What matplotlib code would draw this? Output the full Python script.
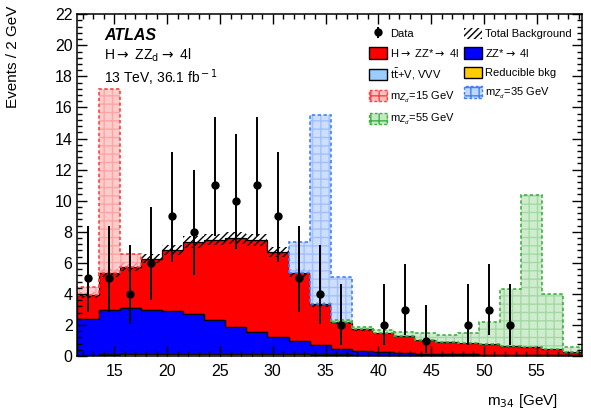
import math
import numpy as np
import matplotlib.pyplot as plt
from matplotlib.patches import Patch
from matplotlib.ticker import MultipleLocator

plt.rcParams['font.family'] = ['Liberation Sans', 'DejaVu Sans']

# binning: 2 GeV bins in m34
bin_lo, bin_hi, bin_w = 11.5, 59.5, 2.0
edges = np.arange(bin_lo, bin_hi + 0.1, bin_w)

data = [5, 5, 4, 6, 9, 8, 11, 10, 11, 9, 5, 4, 2, 0, 2, 3, 1, 0, 2, 3, 2, 0, 0, 0]

reducible = [0.06, 0.09, 0.11, 0.12, 0.13, 0.13, 0.13, 0.13, 0.12, 0.12, 0.11, 0.10,
             0.09, 0.08, 0.08, 0.07, 0.06, 0.06, 0.05, 0.05, 0.04, 0.04, 0.03, 0.03]
ttv = [0.02, 0.02, 0.02, 0.02, 0.02, 0.02, 0.02, 0.02, 0.02, 0.02, 0.02, 0.02,
       0.02, 0.02, 0.02, 0.02, 0.02, 0.02, 0.02, 0.02, 0.02, 0.02, 0.02, 0.02]
zz = [2.34, 2.85, 2.94, 2.82, 2.75, 2.53, 2.17, 1.74, 1.43, 1.10, 0.85, 0.59,
      0.38, 0.24, 0.14, 0.08, 0.06, 0.05, 0.04, 0.03, 0.03, 0.02, 0.02, 0.01]
higgs = [1.53, 2.40, 2.67, 3.32, 3.92, 4.67, 5.18, 5.73, 5.89, 5.47, 4.38, 2.63,
         1.71, 1.38, 1.26, 1.13, 0.91, 0.79, 0.71, 0.66, 0.57, 0.52, 0.36, 0.22]
bkg_unc = 0.05  # relative uncertainty on total background

sig15 = [0.5, 11.8, 0.82, 0, 0, 0, 0, 0, 0, 0, 0, 0,
         0, 0, 0, 0, 0, 0, 0, 0, 0, 0, 0, 0]
sig35 = [0, 0, 0, 0, 0, 0, 0, 0, 0, 0, 2.0, 12.16,
         2.9, 0, 0, 0, 0, 0, 0, 0, 0, 0, 0, 0]
sig55 = [0, 0, 0, 0, 0, 0, 0, 0, 0, 0, 0, 0,
         0.1, 0.16, 0.2, 0.26, 0.41, 0.47, 0.68, 1.44, 3.69, 9.75, 3.56, 0.32]


def poisson_interval(n, a=0.158655):
    # Garwood 68% interval via bisection
    def cdf(k, mu):
        return sum(math.exp(-mu) * mu ** i / math.factorial(i) for i in range(k + 1))

    def solve(k, target):
        lo, hi = 0.0, 60.0
        for _ in range(80):
            mid = 0.5 * (lo + hi)
            if cdf(k, mid) > target:
                lo = mid
            else:
                hi = mid
        return 0.5 * (lo + hi)

    low = 0.0 if n == 0 else solve(n - 1, 1 - a)
    up = solve(n, a)
    return n - low, up - n


fig = plt.figure(figsize=(5.91, 4.18), dpi=100)
ax = fig.add_axes([0.131, 0.148, 0.854, 0.818])

c0 = np.array(reducible)
c1 = c0 + np.array(ttv)
c2 = c1 + np.array(zz)
c3 = c2 + np.array(higgs)

ax.stairs(c3, edges, baseline=c2, fill=True, facecolor='#ff0000', edgecolor='black', lw=0.9)
ax.stairs(c2, edges, baseline=c1, fill=True, facecolor='#0000ff', edgecolor='black', lw=0.9)
ax.stairs(c1, edges, baseline=c0, fill=True, facecolor='#99ccff', edgecolor='black', lw=0.6)
ax.stairs(c0, edges, baseline=0, fill=True, facecolor='#ffcc00', edgecolor='black', lw=0.6)

# total background uncertainty band
ax.stairs(c3 * (1 + bkg_unc), edges, baseline=c3 * (1 - bkg_unc), fill=True,
          facecolor='none', edgecolor='black', hatch='/////', lw=0)

signals = [(sig15, '#ff4040', '#ffc0c0', '#ff9a9a', '15'),
           (sig35, '#4080ff', '#c0d8ff', '#9ab8ff', '35'),
           (sig55, '#40b040', '#c4e8c4', '#99d699', '55')]
sig_handles = []
for sig, ec, fc, hc, mass in signals:
    sig = np.array(sig, dtype=float)
    nz = np.nonzero(sig)[0]
    i0, i1 = nz[0], nz[-1] + 1
    top = c3[i0:i1] + sig[i0:i1]
    ax.stairs(top, edges[i0:i1 + 1], baseline=c3[i0:i1], fill=True,
              facecolor=fc, edgecolor=hc, hatch='++', lw=0, alpha=0.8)
    ax.stairs(top, edges[i0:i1 + 1], baseline=c3[i0:i1], fill=False,
              edgecolor=ec, lw=1.2, linestyle=(0, (2, 1.5)))
    sig_handles.append(Patch(facecolor=fc, edgecolor=ec, hatch='++', lw=1.0,
                             linestyle=(0, (2, 1.5)), label=f'm$_{{Z_d}}$={mass} GeV'))

# data with Poisson errors
centers = edges[:-1] + bin_w / 2
dat = np.array(data)
mask = dat > 0
errs = np.array([poisson_interval(int(n)) for n in dat[mask]]).T
data_h = ax.errorbar(centers[mask], dat[mask], yerr=errs, fmt='o', color='black',
                     ms=5, elinewidth=1.4, capsize=0, label='Data')

ax.set_xlim(11.5, 59.3)
ax.set_ylim(0, 22)
ax.xaxis.set_major_locator(MultipleLocator(5))
ax.xaxis.set_minor_locator(MultipleLocator(1))
ax.yaxis.set_major_locator(MultipleLocator(2))
ax.yaxis.set_minor_locator(MultipleLocator(0.4))
ax.tick_params(which='both', direction='in', top=True, right=True, labelsize=11.5)
ax.tick_params(which='major', length=7, width=1)
ax.tick_params(which='minor', length=3.5, width=1)
ax.tick_params(axis='x', pad=6)
for s in ax.spines.values():
    s.set_linewidth(1.1)

ax.set_ylabel('Events / 2 GeV', fontsize=11, loc='top')
ax.yaxis.set_label_coords(-0.113, 1.026)
ax.set_xlabel('m$_{34}$ [GeV]', fontsize=11, loc='right')
ax.xaxis.set_label_coords(0.952, -0.105)

ax.text(0.053, 0.925, 'ATLAS', transform=ax.transAxes, fontsize=11.5,
        fontweight='bold', fontstyle='italic')
ax.text(0.053, 0.866, r'H$\rightarrow$ ZZ$_{\rm d}$$\rightarrow$ 4l', transform=ax.transAxes, fontsize=10)
ax.text(0.053, 0.8, r'13 TeV, 36.1 fb$^{\rm -1}$', transform=ax.transAxes, fontsize=10)

h_higgs = Patch(facecolor='#ff0000', edgecolor='black', label=r'H$\rightarrow$ ZZ*$\rightarrow$ 4l')
h_zz = Patch(facecolor='#0000ff', edgecolor='black', label=r'ZZ*$\rightarrow$ 4l')
h_ttv = Patch(facecolor='#99ccff', edgecolor='black', label=r't$\bar{\rm t}$+V, VVV')
h_red = Patch(facecolor='#ffcc00', edgecolor='black', label='Reducible bkg')
h_tot = Patch(facecolor='none', edgecolor='black', hatch='/////', lw=0, label='Total Background')

handles = [data_h, h_higgs, h_ttv, sig_handles[0], sig_handles[2],
           h_tot, h_zz, h_red, sig_handles[1]]
ax.legend(handles=handles, ncol=2, loc='upper left', bbox_to_anchor=(0.578, 0.961),
          frameon=False, fontsize=8, borderpad=0, borderaxespad=0,
          handlelength=1.6, handleheight=1.2, handletextpad=0.3,
          labelspacing=0.7, columnspacing=0.4)

fig.savefig('out.png', dpi=100)
